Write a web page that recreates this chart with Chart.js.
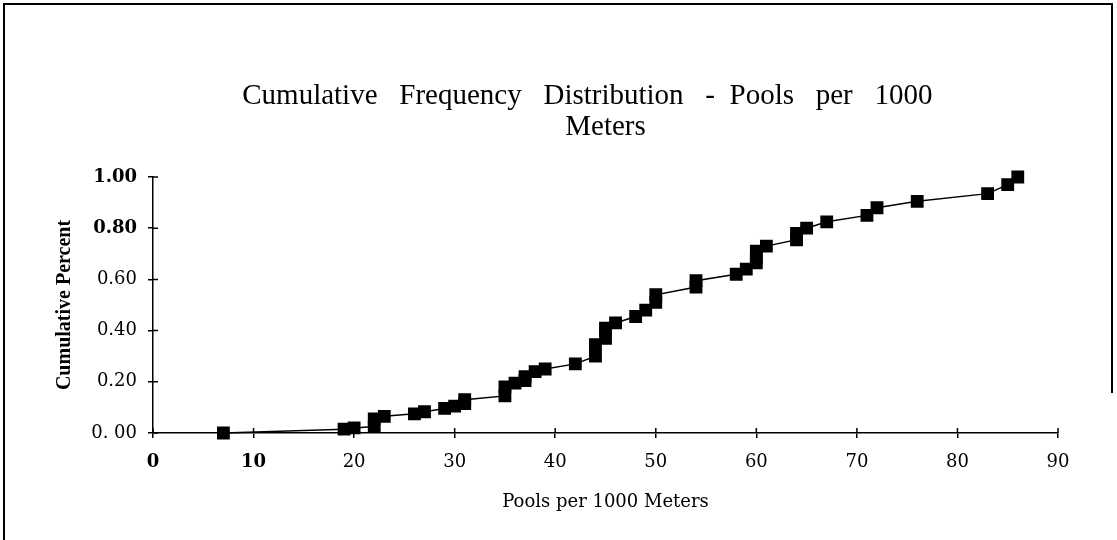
<!DOCTYPE html>
<html>
<head>
<meta charset="utf-8">
<script src="https://cdn.jsdelivr.net/npm/chart.js@4/dist/chart.umd.min.js"></script>
<style>
  html, body { margin: 0; padding: 0; background: #fff; overflow: hidden; }
  #wrap { position: relative; width: 1117px; height: 540px; }
  #frame { position: absolute; left: 3px; top: 3px; width: 1110px; height: 560px; border-left: 2px solid #000; border-top: 2px solid #000; box-sizing: border-box; pointer-events: none; }
  #frameR { position: absolute; left: 1111px; top: 3px; width: 2px; height: 390px; background: #000; pointer-events: none; }
</style>
</head>
<body>
<div id="wrap">
  <canvas id="cfd"></canvas>
  <div id="frame"></div>
  <div id="frameR"></div>
</div>
<script>
/* ---------- data ---------- */
const poolsPer1000 = [7, 19, 20, 22, 22, 23, 26, 27, 29, 30, 31, 31, 35, 35, 36, 37, 37, 38, 39, 42,
  44, 44, 45, 45, 46, 48, 49, 50, 50, 54, 54, 58, 59, 60, 60, 60, 61, 64, 64, 65, 67, 71, 72, 76, 83, 85, 86];
const cumPercent = [0.00, 0.015, 0.02, 0.025, 0.055, 0.065, 0.075, 0.083, 0.096, 0.105, 0.115, 0.13, 0.145, 0.18, 0.195, 0.205, 0.22, 0.24, 0.25, 0.27,
  0.30, 0.345, 0.37, 0.41, 0.43, 0.455, 0.48, 0.51, 0.54, 0.57, 0.595, 0.62, 0.64, 0.665, 0.685, 0.71, 0.73, 0.755, 0.78, 0.80, 0.825, 0.85, 0.88, 0.905, 0.935, 0.97, 1.00];
const xTickLabels = ['0', '10', '20', '30', '40', '50', '60', '70', '80', '90'];
const yTickLabels = ['0. 00', '0.20', '0.40', '0.60', '0.80', '1.00'];
const boldX = ['0', '10'];
const boldY = ['0.80', '1.00'];

const TIMES = '"Liberation Serif", "Times New Roman", serif';
const WIDE = '"DejaVu Serif", serif';

/* ---------- ticks that cross the axis ---------- */
const innerTicks = {
  id: 'innerTicks',
  afterDraw(chart) {
    const { ctx, chartArea: a, scales: { x, y } } = chart;
    ctx.save();
    ctx.strokeStyle = '#000';
    ctx.lineWidth = 1.5;
    ctx.beginPath();
    x.ticks.forEach(t => { const px = x.getPixelForValue(t.value); ctx.moveTo(px, a.bottom); ctx.lineTo(px, a.bottom - 5); });
    y.ticks.forEach(t => { const py = y.getPixelForValue(t.value); ctx.moveTo(a.left, py); ctx.lineTo(a.left + 5, py); });
    ctx.stroke();
    ctx.restore();
  }
};

new Chart(document.getElementById('cfd'), {
  type: 'scatter',
  data: {
    datasets: [{
      data: poolsPer1000.map((v, i) => ({ x: v, y: cumPercent[i] })),
      showLine: true,
      borderColor: '#000',
      borderWidth: 1.5,
      backgroundColor: '#000',
      pointStyle: 'rect',
      pointRadius: 8,
      pointHoverRadius: 8,
      tension: 0,
      clip: false
    }]
  },
  options: {
    responsive: true,
    maintainAspectRatio: false,
    animation: false,
    events: [],
    layout: { padding: { left: 0, right: 59, top: 0, bottom: 0 } },
    plugins: {
      legend: { display: false },
      tooltip: { enabled: false },
      title: {
        display: true,
        fullSize: false,
        // trailing spaces nudge line 1 left like the scan
        text: ['Cumulative   Frequency   Distribution   -  Pools   per   1000     ', 'Meters'],
        color: '#000',
        font: { family: TIMES, size: 29, weight: 'normal', lineHeight: '31px' },
        padding: { top: 81, bottom: 34 }
      }
    },
    scales: {
      x: {
        type: 'linear', min: 0, max: 90,
        afterFit: s => { s.height = 107; },
        border: { color: '#000', width: 1.5 },
        grid: { display: true, drawOnChartArea: false, tickLength: 5, color: '#000', lineWidth: 1.5 },
        ticks: {
          stepSize: 10, color: '#000', padding: 14,
          callback: (v, i) => xTickLabels[i],
          font: c => ({ family: WIDE, size: 18, weight: boldX.includes(xTickLabels[c.index]) ? 'bold' : 'normal' })
        },
        title: { display: true, text: 'Pools per 1000 Meters', color: '#000', font: { family: WIDE, size: 18 }, padding: { top: 0, bottom: 27 } }
      },
      y: {
        min: 0, max: 1,
        afterFit: s => { s.width = 153; },
        border: { color: '#000', width: 1.5 },
        grid: { display: true, drawOnChartArea: false, tickLength: 5, color: '#000', lineWidth: 1.5 },
        ticks: {
          stepSize: 0.2, color: '#000', padding: 11,
          callback: (v, i) => yTickLabels[i],
          font: c => ({ family: WIDE, size: 18, weight: boldY.includes(yTickLabels[c.index]) ? 'bold' : 'normal' })
        },
        title: { display: true, text: 'Cumulative Percent', color: '#000', font: { family: TIMES, size: 20, weight: 'bold' }, padding: { top: 53, bottom: 0 } }
      }
    }
  },
  plugins: [innerTicks]
});
</script>
</body>
</html>
